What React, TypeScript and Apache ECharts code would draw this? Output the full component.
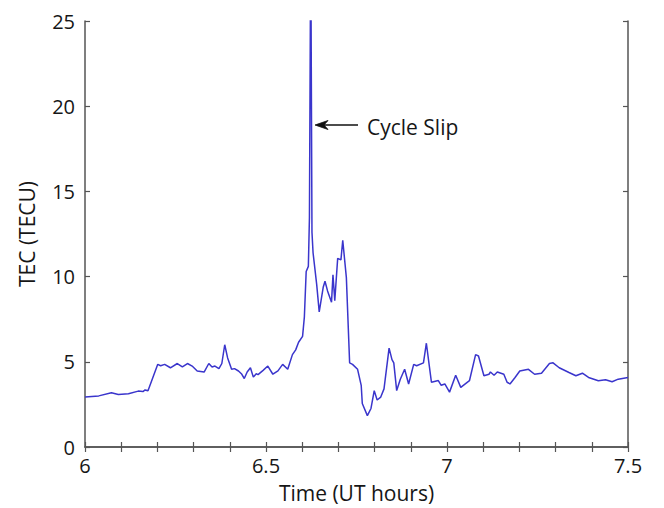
import React, { useEffect, useRef } from "react";
import * as echarts from "echarts";

// UT time (hours) of each TEC sample
const timeHours: number[] = [
  6.0, 6.038, 6.073, 6.092, 6.12, 6.147, 6.16, 6.166, 6.174, 6.201, 6.209, 6.22, 6.236, 6.255,
  6.269, 6.283, 6.296, 6.31, 6.329, 6.342, 6.351, 6.359, 6.37, 6.378, 6.386, 6.394, 6.405,
  6.413, 6.424, 6.432, 6.44, 6.448, 6.457, 6.465, 6.473, 6.478, 6.492, 6.505, 6.519, 6.533,
  6.546, 6.56, 6.573, 6.582, 6.59, 6.601, 6.606, 6.611, 6.617, 6.62, 6.6236, 6.627, 6.63,
  6.64, 6.647, 6.658, 6.663, 6.67, 6.681, 6.685, 6.69, 6.698, 6.707, 6.712, 6.722, 6.731,
  6.739, 6.753, 6.763, 6.766, 6.78, 6.79, 6.799, 6.807, 6.817, 6.826, 6.84, 6.848, 6.853,
  6.861, 6.871, 6.883, 6.894, 6.908, 6.916, 6.935, 6.943, 6.951, 6.957, 6.976, 6.984, 6.994,
  7.007, 7.024, 7.038, 7.062, 7.079, 7.087, 7.102, 7.116, 7.12, 7.13, 7.139, 7.157, 7.166,
  7.174, 7.188, 7.201, 7.225, 7.242, 7.261, 7.283, 7.293, 7.31, 7.337, 7.356, 7.374, 7.391,
  7.418, 7.438, 7.456, 7.473, 7.5,
];

// Total electron content (TECU); the 6.62 h sample is the cycle slip
const tecValues: number[] = [
  2.93, 3.0, 3.18, 3.08, 3.12, 3.28, 3.25, 3.35, 3.3, 4.85, 4.77, 4.85, 4.65, 4.9,
  4.7, 4.9, 4.75, 4.46, 4.4, 4.9, 4.7, 4.75, 4.6, 4.9, 6.0, 5.23, 4.56,
  4.6, 4.46, 4.3, 4.02, 4.4, 4.65, 4.1, 4.3, 4.25, 4.5, 4.75, 4.27, 4.47,
  4.85, 4.56, 5.42, 5.7, 6.15, 6.49, 7.64, 10.3, 10.6, 13.47, 30, 12.6, 11.4,
  9.54, 7.93, 9.37, 9.73, 9.16, 8.5, 10.1, 8.58, 11.07, 10.98, 12.13, 9.94, 4.94,
  4.85, 4.56, 3.62, 2.55, 1.84, 2.26, 3.31, 2.76, 2.93, 3.41, 5.8, 5.13, 4.94,
  3.31, 3.98, 4.56, 3.7, 4.85, 4.77, 4.94, 6.09, 4.77, 3.8, 3.9, 3.62, 3.7,
  3.22, 4.21, 3.5, 3.89, 5.42, 5.34, 4.18, 4.27, 4.4, 4.21, 4.4, 4.27, 3.8,
  3.7, 4.08, 4.46, 4.56, 4.27, 4.33, 4.9, 4.94, 4.65, 4.37, 4.18, 4.33, 4.08,
  3.89, 3.95, 3.83, 3.98, 4.08,
];

const xLabelTicks: number[] = [6, 6.5, 7, 7.5];

const FONT = "'Open Sans', 'Noto Sans', sans-serif";
const AXIS_COLOR = "#555";
const TEXT_COLOR = "#161616";

export default function App() {
  const ref = useRef<HTMLDivElement>(null);

  useEffect(() => {
    if (!ref.current) return;
    const chart = echarts.init(ref.current, undefined, { renderer: "svg" });

    const seriesData = timeHours.map((t, i) => [t, tecValues[i]]);

    const frameAxis = {
      axisLine: { show: true, lineStyle: { color: AXIS_COLOR, width: 1.5 } },
      axisTick: { show: true, inside: true, length: 5, lineStyle: { color: AXIS_COLOR, width: 1.2 } },
      splitLine: { show: false },
    };

    chart.setOption({
      animation: false,
      backgroundColor: "#ffffff",
      grid: { left: 68, right: 36, top: 13, bottom: 52, containLabel: false },
      xAxis: [
        {
          type: "value",
          min: 6,
          max: 7.5,
          interval: 0.1,
          ...frameAxis,
          axisLabel: {
            show: true,
            margin: 8,
            fontSize: 20,
            fontFamily: FONT,
            color: TEXT_COLOR,
            formatter: (v: number) => {
              const hit = xLabelTicks.find((t) => Math.abs(t - v) < 1e-6);
              return hit === undefined ? "" : String(hit);
            },
          },
          name: "Time (UT hours)",
          nameLocation: "middle",
          nameGap: 35,
          nameTextStyle: { fontSize: 21, fontFamily: FONT, color: TEXT_COLOR },
        },
        {
          type: "value",
          position: "top",
          min: 6,
          max: 7.5,
          interval: 0.1,
          ...frameAxis,
          axisLabel: { show: false },
        },
      ],
      yAxis: [
        {
          type: "value",
          min: 0,
          max: 25,
          interval: 5,
          ...frameAxis,
          axisLabel: {
            show: true,
            margin: 10,
            fontSize: 20,
            fontFamily: FONT,
            color: TEXT_COLOR,
          },
          name: "TEC (TECU)",
          nameLocation: "middle",
          nameGap: 48,
          nameRotate: 90,
          nameTextStyle: { fontSize: 21, fontFamily: FONT, color: TEXT_COLOR },
        },
        {
          type: "value",
          position: "right",
          min: 0,
          max: 25,
          interval: 5,
          ...frameAxis,
          axisLabel: { show: false },
        },
      ],
      series: [
        {
          type: "line",
          data: seriesData,
          showSymbol: false,
          clip: true,
          lineStyle: { color: "#3a35cc", width: 1.5 },
          itemStyle: { color: "#3a35cc" },
        },
      ],
      graphic: [
        {
          type: "line",
          shape: { x1: 350, y1: 117, x2: 309, y2: 117 },
          style: { stroke: "#111", lineWidth: 1.4 },
        },
        {
          type: "polygon",
          shape: { points: [[307, 117], [320, 112.5], [316, 117], [320, 121.5]] },
          style: { fill: "#111", stroke: "#111", lineWidth: 0.8 },
        },
        {
          type: "text",
          x: 359,
          y: 119,
          style: {
            text: "Cycle Slip",
            fontSize: 21,
            fontFamily: FONT,
            fill: TEXT_COLOR,
            verticalAlign: "middle",
          },
        },
      ],
    });

    return () => chart.dispose();
  }, []);

  return <div ref={ref} style={{ width: 656, height: 500 }} />;
}
